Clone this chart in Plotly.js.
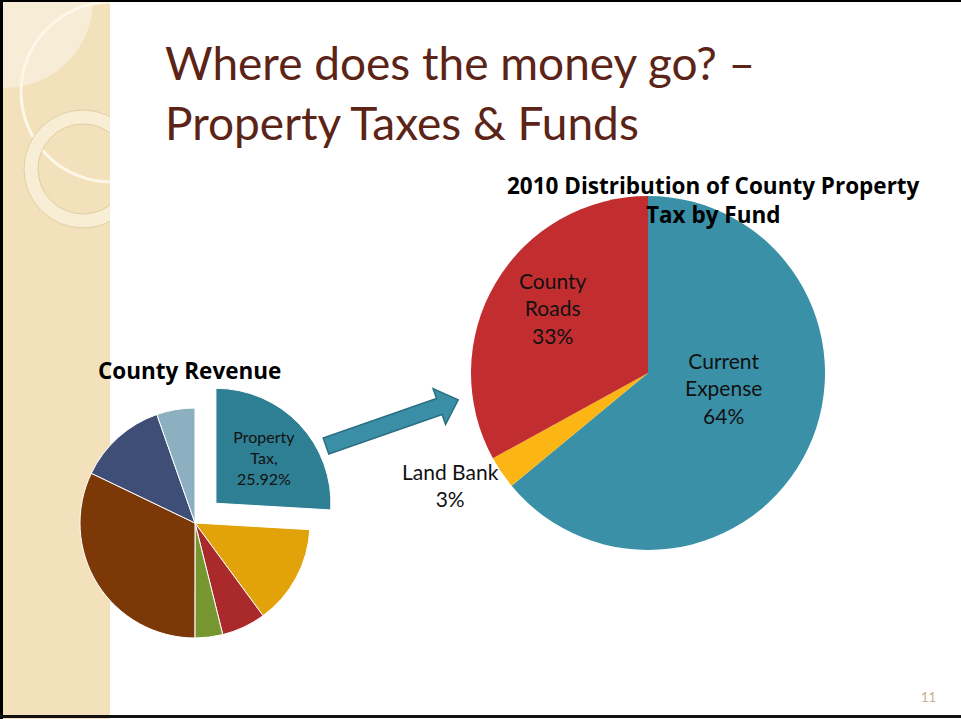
<!DOCTYPE html>
<html><head><meta charset="utf-8">
<script src="https://cdn.plot.ly/plotly-3.0.1.min.js"></script>
<style>html,body{margin:0;padding:0;background:#fff;overflow:hidden}</style>
</head><body><div id="chart" style="width:961px;height:719px"></div>
<script>
// ---- data ----
const slideTitle = "Where does the money go? –<br>Property Taxes & Funds";
const revenueTitle = "<b>County Revenue</b>";
const revenueLabels = ["Property Tax", "Revenue B", "Revenue C", "Revenue D", "Revenue E", "Revenue F", "Revenue G"];
const revenueShares = [25.92, 14.0, 6.2, 3.9, 32.1, 12.5, 5.38];
const revenueText = ["Property<br>Tax,<br>25.92%", "", "", "", "", "", ""];
const revenuePull = [0.25, 0, 0, 0, 0, 0, 0];
const revenueColors = ["#2e7f93", "#e1a309", "#aa2a2b", "#76962f", "#7d3807", "#3e4e77", "#8cb0bf"];

const fundTitle = "<b>2010 Distribution of County Property<br>Tax by Fund</b>";
const fundLabels = ["Current Expense", "Land Bank", "County Roads"];
const fundShares = [64, 3, 33];
const fundText = ["Current<br>Expense<br>64%", "Land Bank<br>3%", "County<br>Roads<br>33%"];
const fundColors = ["#3a90a7", "#fbb514", "#c22d30"];
const pageNumber = "11";

// ---- layout helpers (pixel -> paper) ----
const W = 961, H = 719;
const px = x => x / W;
const py = y => 1 - y / H;
const FONT = "Lato, 'Open Sans', sans-serif";
const BOLD = "'Open Sans', Lato, sans-serif";

const revenueTrace = {
  type: "pie", labels: revenueLabels, values: revenueShares, text: revenueText,
  textinfo: "text", textposition: "inside", insidetextorientation: "horizontal",
  pull: revenuePull, sort: false, direction: "clockwise", rotation: 0,
  marker: {colors: revenueColors, line: {color: "#ffffff", width: 1}},
  textfont: {family: FONT, size: 16, color: "#111"},
  domain: {x: [px(51.25), px(338.75)], y: [py(666.75), py(379.25)]},
  hoverinfo: "none", showlegend: false
};
const fundTrace = {
  type: "pie", labels: fundLabels, values: fundShares,
  textinfo: "none", sort: false, direction: "clockwise", rotation: 0,
  marker: {colors: fundColors, line: {color: "#ffffff", width: 0}},
  domain: {x: [px(471), px(825)], y: [py(550), py(196)]},
  hoverinfo: "none", showlegend: false
};

// arrow geometry (decoration)
function arrowPath() {
  const T = [326, 446], ang = Math.atan2(-46, 132);
  const u = [Math.cos(ang), Math.sin(ang)], n = [-u[1], u[0]];
  const L = 140, hb = 120, sw = 8.5, hw = 19;
  const P = (a, b) => [T[0] + a * u[0] + b * n[0], T[1] + a * u[1] + b * n[1]];
  const pts = [P(0, -sw), P(hb, -sw), P(hb, -hw), P(L, 0), P(hb, hw), P(hb, sw), P(0, sw)];
  return "M" + pts.map(p => px(p[0]).toFixed(5) + "," + py(p[1]).toFixed(5)).join(" L") + " Z";
}

const shapes = [
  {type: "rect", xref: "paper", yref: "paper", layer: "below", x0: px(0), x1: px(110), y0: 0, y1: 1, fillcolor: "#f2e1bb", line: {width: 0}},
  {type: "circle", xref: "paper", yref: "paper", layer: "below", x0: px(5 - 88), x1: px(5 + 88), y0: py(88), y1: py(-88), fillcolor: "#f7ecd6", line: {width: 0}},
  {type: "circle", xref: "paper", yref: "paper", layer: "below", x0: px(111 - 90), x1: px(111 + 90), y0: py(92 + 90), y1: py(92 - 90), fillcolor: "rgba(0,0,0,0)", line: {color: "#fdf7e8", width: 3}},
  {type: "circle", xref: "paper", yref: "paper", layer: "below", x0: px(83 - 52), x1: px(83 + 52), y0: py(169 + 52), y1: py(169 - 52), fillcolor: "rgba(0,0,0,0)", line: {color: "#f8eed5", width: 14}},
  {type: "circle", xref: "paper", yref: "paper", layer: "below", x0: px(83 - 59), x1: px(83 + 59), y0: py(169 + 59), y1: py(169 - 59), fillcolor: "rgba(0,0,0,0)", line: {color: "#e2cea2", width: 1}},
  {type: "circle", xref: "paper", yref: "paper", layer: "below", x0: px(83 - 45), x1: px(83 + 45), y0: py(169 + 45), y1: py(169 - 45), fillcolor: "rgba(0,0,0,0)", line: {color: "#e2cea2", width: 1}},
  {type: "rect", xref: "paper", yref: "paper", layer: "below", x0: px(110), x1: 1, y0: 0, y1: 1, fillcolor: "#ffffff", line: {width: 0}},
  {type: "path", xref: "paper", yref: "paper", layer: "above", path: arrowPath(), fillcolor: "#3a8fa6", line: {color: "#2b6f82", width: 1.5}},
  {type: "rect", xref: "paper", yref: "paper", layer: "above", x0: 0, x1: px(3), y0: 0, y1: 1, fillcolor: "#000", line: {width: 0}},
  {type: "rect", xref: "paper", yref: "paper", layer: "above", x0: 0, x1: 1, y0: py(2), y1: 1, fillcolor: "#000", line: {width: 0}},
  {type: "rect", xref: "paper", yref: "paper", layer: "above", x0: 0, x1: 1, y0: py(718), y1: py(715), fillcolor: "#111", line: {width: 0}}
];

// label anchor positions for the fund pie (pixel centres)
const fundLabelPos = [[723, 388], [450, 485], [553, 308]];

const annotations = [
  {text: slideTitle, xref: "paper", yref: "paper", x: px(163), y: py(33), xanchor: "left", yanchor: "top", align: "left", showarrow: false, font: {family: FONT, size: 46, color: "#5b2416"}},
  {text: revenueTitle, xref: "paper", yref: "paper", x: px(189), y: py(370), xanchor: "center", yanchor: "middle", showarrow: false, font: {family: BOLD, size: 22.5, color: "#000"}},
  {text: fundTitle, xref: "paper", yref: "paper", x: px(713), y: py(200), xanchor: "center", yanchor: "middle", showarrow: false, font: {family: BOLD, size: 22.5, color: "#000"}},
  {text: pageNumber, xref: "paper", yref: "paper", x: px(928), y: py(697), xanchor: "center", yanchor: "middle", showarrow: false, font: {family: FONT, size: 13, color: "#c4b08a"}}
].concat(fundText.map((t, i) => ({
  text: t, xref: "paper", yref: "paper", x: px(fundLabelPos[i][0]), y: py(fundLabelPos[i][1]),
  xanchor: "center", yanchor: "middle", align: "center", showarrow: false,
  font: {family: FONT, size: 21, color: "#111"}
})));

const layout = {
  width: W, height: H, margin: {l: 0, r: 0, t: 0, b: 0},
  paper_bgcolor: "#ffffff", plot_bgcolor: "#ffffff",
  shapes: shapes, annotations: annotations, showlegend: false
};

Plotly.newPlot("chart", [revenueTrace, fundTrace], layout, {staticPlot: true, displayModeBar: false});
</script>
</body></html>
